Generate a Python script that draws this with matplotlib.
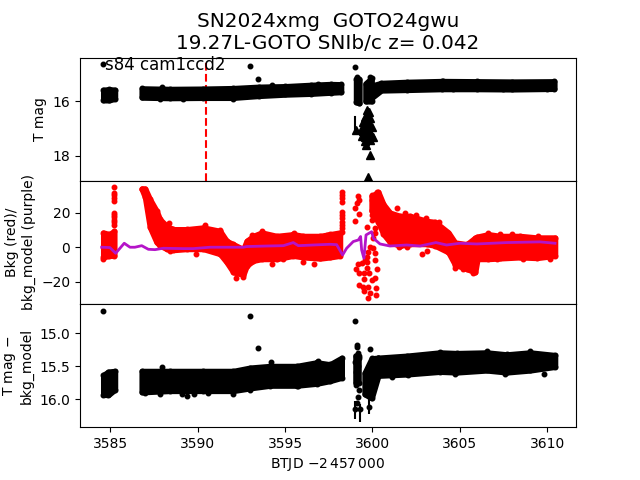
import matplotlib
matplotlib.use('Agg')
import matplotlib.pyplot as plt

title = 'SN2024xmg  GOTO24gwu\n19.27L-GOTO SNIb/c z= 0.042'
sector_label = 's84 cam1ccd2'
t_peak = 3590.46

# top panel: T mag, envelope of the dense light curve
mag_t_a = [3584.6, 3584.95, 3585.27]
mag_hi_a = [15.58, 15.56, 15.58]
mag_lo_a = [15.96, 15.96, 15.9]
mag_t_b = [3586.8, 3588.4, 3590.3, 3592.0, 3593.5, 3595.0, 3596.5, 3597.6, 3598.2]
mag_hi_b = [15.53, 15.55, 15.54, 15.52, 15.47, 15.45, 15.40, 15.37, 15.38]
mag_lo_b = [15.86, 15.88, 15.87, 15.87, 15.80, 15.75, 15.72, 15.68, 15.66]
mag_t_c = [3600.0, 3600.5, 3602.0, 3604.0, 3606.0, 3608.0, 3610.4]
mag_hi_c = [15.42, 15.33, 15.29, 15.26, 15.27, 15.28, 15.27]
mag_lo_c = [15.85, 15.60, 15.58, 15.55, 15.55, 15.56, 15.54]
# the two columns of dots around the dip
mag_t_d = [3599.06, 3599.25]
mag_hi_d = [15.2, 15.2]
mag_lo_d = [16.03, 16.07]
mag_t_e = [3599.6, 3599.95]
mag_hi_e = [15.35, 15.15]
mag_lo_e = [16.0, 16.0]
mag_t_pts = [3584.6, 3593.0, 3593.47, 3599.02, 3599.13, 3599.86,
             3587.98, 3589.18, 3592.04, 3594.23, 3596.9, 3587.84,
             3609.96, 3607.49, 3604.62, 3604.05]
mag_pts = [14.645, 14.72, 15.19, 14.755, 15.10, 15.12,
           15.49, 15.93, 15.91, 15.4, 15.37, 15.93,
           15.56, 15.56, 15.56, 15.24]
lim_t = [3599.73, 3599.88, 3599.63, 3600.05, 3599.38, 3599.04, 3599.67, 3599.47, 3599.86,
         3599.67, 3599.76, 3599.86, 3599.57, 3599.38, 3599.86, 3599.76, 3599.57,
         3599.55, 3599.95, 3599.8, 3599.45, 3599.7, 3599.9, 3599.55, 3599.75]
lim_mag = [18.76, 17.97, 17.6, 17.32, 17.27, 17.05, 17.05, 16.75, 16.62,
           16.32, 17.17, 16.87, 17.32, 16.99, 17.42, 16.56, 16.56,
           16.9, 16.95, 16.4, 17.1, 16.75, 17.2, 17.45, 17.3]
lim_err_t = 3599.0
lim_err_lo = 16.56
lim_err_hi = 17.05

# middle panel: background
bkg_t_a = [3584.6, 3584.95, 3585.23]
bkg_hi_a = [8.5, 7.5, 9.4]
bkg_lo_a = [-5.8, -4.9, -4.9]
bkg_t_b = [3586.8, 3586.99, 3587.27, 3587.65, 3587.84, 3588.23, 3588.61, 3589.37, 3590.32,
           3591.28, 3591.66, 3592.04, 3592.61, 3592.8, 3593.18, 3593.66, 3594.52, 3595.47,
           3596.04, 3597.0, 3597.57, 3598.14]
bkg_hi_b = [34, 34, 27.8, 21, 16.2, 12.3, 10.4, 10.4, 11.4, 9.4, 3.6, 1.7, -1.2, 3.6, 6.5, 8.5,
            6.5, 7.5, 6.5, 6.5, 7.5, 8.5]
bkg_lo_b = [33.8, 29, 11.6, 2.9, 1, -1, -1.6, -1, -1, -3.9, -8.7, -14.5, -15.9, -10.7, -7.8,
            -6.8, -6.8, -4.9, -5.8, -6.5, -5.8, -4.9]
bkg_t_c = [3599.95, 3600.33, 3600.62, 3601.0, 3601.57, 3602.15, 3603.1, 3603.58, 3604.34,
           3604.72, 3605.39, 3605.87, 3606.0, 3606.63, 3607.3, 3608.44, 3609.39, 3610.44]
bkg_hi_c = [29.7, 32, 24.9, 20, 18.1, 18.1, 15.2, 14.6, 8.5, 2.7, 1.7, 5.5, 6.1, 7.5, 6.5, 6.5, 5.6, 5.6]
bkg_lo_c = [21.2, 14.5, 7.7, 2.9, 0.9, 1.9, 1.9, 0.9, -2.9, -10.1, -12.6, -14.5, -6.8, -6.8,
            -6.4, -5.8, -6.2, -4.9]
bkg_t_pts = [3585.23, 3585.23, 3585.23, 3585.23, 3585.23, 3585.23, 3585.23, 3585.23, 3585.23,
             3585.23, 3585.23, 3584.6,
             3598.24, 3598.24, 3598.24, 3598.24, 3598.24, 3598.24, 3598.24, 3598.24, 3598.24,
             3598.24, 3598.24,
             3599.17, 3599.21, 3599.13, 3599.02, 3599.21, 3599.02, 3599.7, 3599.95, 3599.95,
             3600.24, 3599.95, 3599.95, 3599.95, 3600.14, 3600.14, 3600.05, 3599.86, 3599.76,
             3599.67, 3599.38, 3599.19, 3599.04, 3599.25, 3599.51, 3599.51, 3599.82, 3600.28,
             3600.16, 3599.25, 3599.48, 3599.76, 3600.2, 3599.51, 3600.2, 3599.86, 3599.76,
             3599.95, 3599.67, 3599.67, 3600.14, 3600.14, 3600.05, 3599.57,
             3601.42, 3602.5, 3602.85, 3603.14, 3604.74,
             3588.36, 3589.9, 3590.42, 3588.4, 3591.28, 3592.17, 3592.61, 3594.23, 3593.7, 3596.67,
             3595.5, 3593.09, 3596.04, 3594.9, 3597.38,
             3606.63, 3607.3, 3607.96, 3609.49, 3607.1, 3608.63, 3610.15, 3605.77, 3605.2,
             3601.99, 3601.54, 3601.86, 3603.06, 3603.82]
bkg_pts = [34.7, 31.3, 30, 28.4, 27, 20, 18.7, 17.4, 15.8, 14.4, 13, -7,
           32.2, 30.3, 28.4, 26.4, 20.6, 18.7, 16.8, 14.8, 12.9, 11, 9,
           29.9, 27.4, 25.9, 22.6, 19.1, 15.2, 11.9, 30.3, 27.4,
           32.2, 21.6, 18.7, 15.8, 11, 8.1, 5.2, 0.4, -2.5,
           -5.4, -9.3, -9.7, -12.8, -15.1, -15.1, -18.2, -14.7, -12.8,
           -17.6, -21.9, -22.8, -23.2, -23.8, -25.2, -27.7, -26.7, -29.4,
           -19, -12.2, -8.3, -7.4, -3.5, -0.6, -7.4,
           22.6, 18.7, -3.9, -2, -12.2,
           13.9, -3.9, 12.9, -2, 10, -18, -17.4, -9.7, 9.6, -9.7,
           8.5, 7.1, -8.3, -7, 7.1,
           8.5, 7.7, 7.7, 6.5, -7, -7, -7, -14.7, -12.8,
           0.4, 0, 19.7, 16.8, 14.8]
model_t = [3584.51, 3584.98, 3585.31, 3585.8, 3586.13, 3586.41, 3586.8, 3587.18, 3587.56, 3588.03,
           3589.18, 3589.75, 3590.7, 3592.61, 3592.8, 3593.95, 3594.9, 3595.47, 3595.76, 3596.62,
           3597.57, 3597.95, 3598.29, 3598.52, 3598.9, 3599.19, 3599.32, 3599.38, 3599.51, 3599.63,
           3599.95, 3600.05, 3600.43, 3601.0, 3601.96, 3602.72, 3603.63, 3604.24, 3605.0, 3605.96,
           3607.68, 3609.58, 3610.44]
model = [0, -0.2, -3.5, 2.3, 0, 0, 0.9, -1.2, -1.4, -0.6,
         -0.8, -0.8, 0, 0, 0.4, 0.7, 0.9, 2.7, 0.9, 1.3,
         1.7, 1.5, -4.5, -0.6, 3.3, 4.2, 6.2, -1.6, -6.4, 7.1,
         9, 5.2, 1.9, 0.7, 1.3, 0.7, 2.7, 1.3, 2.3, 1.9,
         2.7, 3.1, 2.3]

# bottom panel: T mag minus bkg model
sub_t_a = [3584.6, 3584.9, 3585.27]
sub_hi_a = [15.63, 15.58, 15.57]
sub_lo_a = [15.93, 15.93, 15.85]
sub_t_b = [3586.8, 3588.42, 3590.32, 3592.04, 3593.0, 3594.14, 3595.66, 3596.81, 3597.57, 3598.24]
sub_hi_b = [15.57, 15.57, 15.57, 15.57, 15.52, 15.495, 15.495, 15.44, 15.47, 15.37]
sub_lo_b = [15.89, 15.87, 15.87, 15.87, 15.83, 15.79, 15.79, 15.76, 15.72, 15.67]
sub_t_c = [3600.33, 3601.95, 3603.86, 3604.82, 3606.53, 3607.68, 3609.01, 3610.44]
sub_hi_c = [15.37, 15.34, 15.29, 15.30, 15.29, 15.32, 15.29, 15.33]
sub_lo_c = [15.64, 15.62, 15.58, 15.59, 15.56, 15.59, 15.56, 15.505]
# the two columns of dots around the dip
sub_t_d = [3599.06, 3599.22]
sub_hi_d = [15.35, 15.35]
sub_lo_d = [15.75, 15.75]
sub_t_e = [3599.55, 3599.95, 3600.33]
sub_hi_e = [15.6, 15.38, 15.37]
sub_lo_e = [15.92, 15.98, 15.64]
sub_t_pts = [3584.6, 3593.0, 3593.47, 3587.98, 3587.85, 3589.08, 3589.4, 3589.8, 3592.04, 3586.99,
             3590.6, 3594.2, 3596.9, 3595.76, 3593.0,
             3603.86, 3606.53, 3609.01, 3607.58, 3609.81, 3604.72, 3601.1, 3602.05,
             3599.02, 3599.13, 3599.13, 3599.19, 3599.25, 3599.0, 3599.19, 3599.06, 3599.13,
             3599.06, 3599.25, 3599.19, 3599.13, 3599.0, 3599.28, 3599.82, 3599.9, 3599.95,
             3599.86]
sub_pts = [14.667, 14.74, 15.227, 15.505, 15.92, 15.92, 15.945, 15.92, 15.92, 15.90,
           15.9, 15.44, 15.42, 15.8, 15.86,
           15.28, 15.263, 15.263, 15.616, 15.616, 15.616, 15.657, 15.63,
           14.81, 15.18, 15.2, 15.3, 15.38, 15.43, 15.5, 15.58, 15.66,
           15.78, 15.86, 15.96, 16.06, 16.15, 16.15, 16.11, 15.93, 15.83,
           15.23]
sub_err_t = [3599.0, 3599.28, 3599.82]
sub_err_lo = [16.02, 16.07, 15.99]
sub_err_hi = [16.29, 16.34, 16.22]

dot_size = 6.5


def draw_band(ax, t, lo, hi, color):
    # the dots overlap so much they only show as a solid band
    ax.fill_between(t, lo, hi, color=color, linewidth=4, joinstyle='round')
    ax.plot(t, lo, '.', color=color, markersize=dot_size)
    ax.plot(t, hi, '.', color=color, markersize=dot_size)


fig, (ax1, ax2, ax3) = plt.subplots(3, 1, sharex=True)
fig.subplots_adjust(hspace=0)

ax1.set_title(title, fontsize=14.4)

draw_band(ax1, mag_t_a, mag_hi_a, mag_lo_a, 'k')
draw_band(ax1, mag_t_b, mag_hi_b, mag_lo_b, 'k')
draw_band(ax1, mag_t_c, mag_hi_c, mag_lo_c, 'k')
draw_band(ax1, mag_t_d, mag_hi_d, mag_lo_d, 'k')
draw_band(ax1, mag_t_e, mag_hi_e, mag_lo_e, 'k')
ax1.plot(mag_t_pts, mag_pts, 'k.', markersize=dot_size)
ax1.plot(lim_t, lim_mag, 'k^', markersize=5.5)
ax1.plot([lim_err_t, lim_err_t], [lim_err_lo, lim_err_hi], 'k-', linewidth=1.5)
ax1.axvline(t_peak, color='r', linestyle='--', ymax=0.964, zorder=0.5)
ax1.text(3584.7, 14.85, sector_label, fontsize=12)
ax1.set_ylim(18.91, 14.4)
ax1.set_yticks([16, 18])
ax1.set_ylabel('T mag')

draw_band(ax2, bkg_t_a, bkg_lo_a, bkg_hi_a, 'r')
draw_band(ax2, bkg_t_b, bkg_lo_b, bkg_hi_b, 'r')
draw_band(ax2, bkg_t_c, bkg_lo_c, bkg_hi_c, 'r')
ax2.plot(bkg_t_pts, bkg_pts, 'r.', markersize=dot_size)
ax2.plot(model_t, model, color='#b414c8', linewidth=2)
ax2.set_ylim(-32.9, 38.5)
ax2.set_yticks([-20, 0, 20])
ax2.set_ylabel('Bkg (red)/\nbkg_model (purple)')

draw_band(ax3, sub_t_a, sub_hi_a, sub_lo_a, 'k')
draw_band(ax3, sub_t_b, sub_hi_b, sub_lo_b, 'k')
draw_band(ax3, sub_t_c, sub_hi_c, sub_lo_c, 'k')
draw_band(ax3, sub_t_d, sub_hi_d, sub_lo_d, 'k')
draw_band(ax3, sub_t_e, sub_hi_e, sub_lo_e, 'k')
ax3.plot(sub_t_pts, sub_pts, 'k.', markersize=dot_size)
ax3.vlines(sub_err_t, sub_err_lo, sub_err_hi, color='k', linewidth=1.5)
ax3.set_ylim(16.42, 14.556)
ax3.set_yticks([15, 15.5, 16])
ax3.set_yticklabels(['15.0', '15.5', '16.0'])
ax3.set_ylabel('T mag $-$\nbkg_model')
ax3.set_xlim(3583.27, 3611.64)
ax3.set_xticks([3585, 3590, 3595, 3600, 3605, 3610])
ax3.set_xticklabels(['3585', '3590', '3595', '3600', '3605', '3610'])
ax3.set_xlabel(r'BTJD $-2\,457\,000$')

plt.savefig('out.png', dpi=100)
